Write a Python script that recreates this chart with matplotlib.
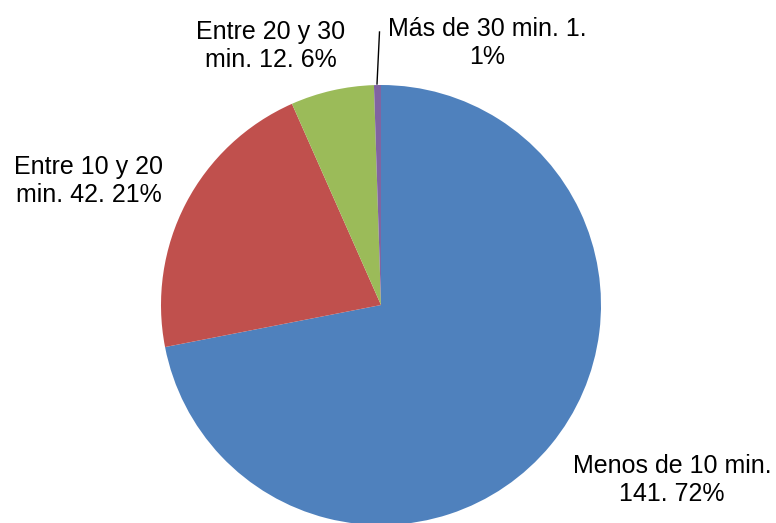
import matplotlib.pyplot as plt

# data
categories = ['Menos de 10 min.', 'Entre 10 y 20 min.', 'Entre 20 y 30 min.', 'Más de 30 min.']
values = [141, 42, 12, 1]
labels = ['Menos de 10 min.\n141. 72%',
          'Entre 10 y 20\nmin. 42. 21%',
          'Entre 20 y 30\nmin. 12. 6%',
          'Más de 30 min. 1.\n1%']
colours = ['#4F81BD', '#C0504D', '#9BBB59', '#8064A2']

plt.rcParams['font.family'] = ['Liberation Sans', 'DejaVu Sans']

W, H = 776, 523
fig = plt.figure(figsize=(W / 100, H / 100), dpi=100)
ax = fig.add_axes([0, 0, 1, 1])

cx, cy, r = 381, H - 305, 220
ax.pie(values, colors=colours, startangle=90, counterclock=False,
       center=(cx, cy), radius=r, frame=True,
       wedgeprops=dict(linewidth=0))
ax.set_xlim(0, W)
ax.set_ylim(0, H)
ax.set_aspect('equal')
ax.axis('off')

# label positions in pixels (x, y from top)
label_pos = [(672, 480), (89, 181), (271, 46), (487, 43)]
for txt, (lx, ly) in zip(labels, label_pos):
    ax.text(lx, H - ly, txt, ha='center', va='center', fontsize=18,
            linespacing=1.2, color='black')

# leader line for the small slice
ax.plot([377, 379.5], [H - 84, H - 32], color='black', linewidth=1)

fig.savefig('out.png', dpi=100)
